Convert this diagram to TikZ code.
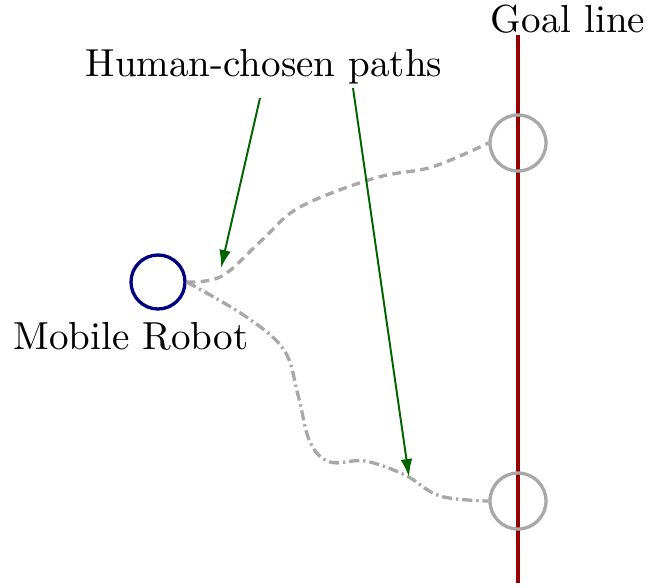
\documentclass[tikz,border=0pt]{standalone}
\usetikzlibrary{arrows.meta}
\definecolor{robotblue}{RGB}{0,0,128}
\definecolor{goalred}{RGB}{150,0,0}
\definecolor{pathgray}{RGB}{168,168,168}
\definecolor{arrowgreen}{RGB}{0,100,0}
\begin{document}
\begin{tikzpicture}[x=0.256pt,y=-0.256pt,
  robotcirc/.style={circle,draw=robotblue,line width=0.85pt,minimum size=54*0.256pt,inner sep=0pt},
  goalcirc/.style={circle,draw=pathgray,line width=0.85pt,minimum size=56*0.256pt,inner sep=0pt},
  lbl/.style={font=\normalsize,inner sep=0pt},
  pointer/.style={draw=arrowgreen,line width=0.5pt,-{Latex[length=4.6pt,width=3pt]}},
  humanpath/.style={draw=pathgray,line width=0.85pt,dash pattern=on 2.2pt off 1.4pt},
  humanpathb/.style={draw=pathgray,line width=0.85pt,dash pattern=on 2.6pt off 1pt on 0.6pt off 1pt}]
\useasboundingbox (0,0) rectangle (649,587);
\coordinate (gtop) at (518,35);
\coordinate (gbot) at (518,583);
\draw[goalred,line width=1pt] (gtop) -- (gbot);
\node[goalcirc] (g1) at (518,143) {};
\node[goalcirc] (g2) at (518,501) {};
\node[robotcirc] (robot) at (158,282) {};
\node[lbl] (robotlbl) at (131,336) {Mobile Robot};
\node[lbl] (goallbl) at (568,19) {Goal line};
\node[lbl] (human) at (264,67) {Human-chosen paths};
\draw[humanpath] plot[smooth,tension=0.6] coordinates {(robot.east) (222,276) (262,240) (300,207) (375,178) (432,167) (g1.west)};
\draw[humanpathb] plot[smooth,tension=0.6] coordinates {(robot.east) (245,316) (284,350) (298,395) (310,442) (330,462) (365,461) (405,475) (440,496) (g2.west)};
\coordinate (a1) at (221,268);
\coordinate (a2) at (409,477);
\coordinate (s1) at (260,98);
\coordinate (s2) at (353,88);
\draw[pointer] (s1) -- (a1);
\draw[pointer] (s2) -- (a2);
\end{tikzpicture}
\end{document}
